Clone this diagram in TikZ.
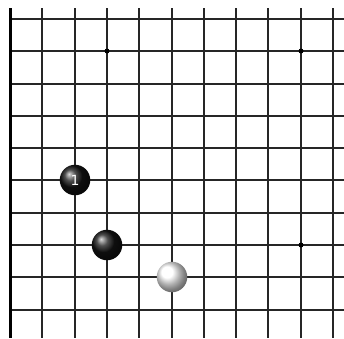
\documentclass[tikz,border=0pt]{standalone}
\usepackage{fontspec}
\newfontfamily\stonefont{DejaVu Sans}
\tikzset{
  gridline/.style={draw=black!85, line width=1.6pt},
  edgeline/.style={draw=black, line width=3pt},
  starpt/.style={circle, fill=black, inner sep=0pt, minimum size=5pt},
  stone/.style={circle, inner sep=0pt, minimum size=30.5pt},
  blackstone/.style={stone, ball color=black!92, text=white, font=\stonefont\fontsize{14}{14}\selectfont},
  whitestone/.style={stone, ball color=white},
}
\begin{document}
\begin{tikzpicture}[x=1pt,y=-1pt]
\useasboundingbox[fill=white] (0,0) rectangle (344,338);
\foreach \yy in {19,51,84,116,148,180,213,245,277,310}
  \draw[gridline] (10,\yy) -- (344,\yy);
\foreach \xx in {42,75,107,139,172,204,236,268,301,333}
  \draw[gridline] (\xx,8) -- (\xx,338);
\draw[edgeline] (10,8) -- (10,338);
\node[starpt] (s1) at (107,51) {};
\node[starpt] (s2) at (301,51) {};
\node[starpt] (s3) at (301,245) {};
\node[blackstone] (b1) at (75,180) {1};
\node[blackstone] (b2) at (107,245) {};
\node[whitestone] (w1) at (172,277) {};
\end{tikzpicture}
\end{document}
